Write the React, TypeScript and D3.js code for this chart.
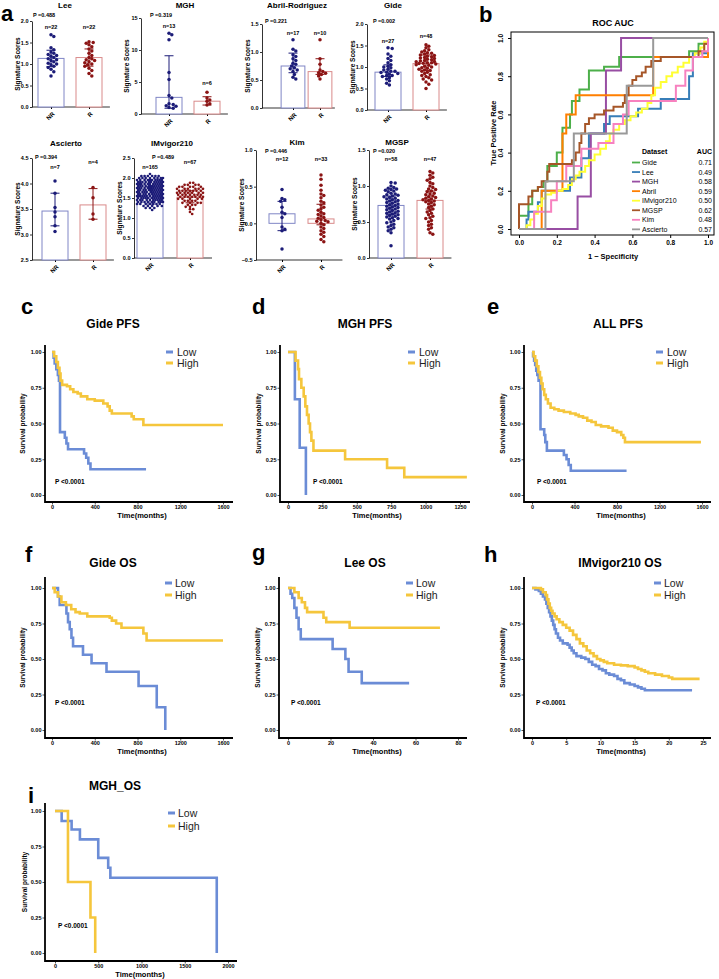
import React, { useEffect, useRef } from 'react';
import * as d3 from 'd3';

const FONT = 'Liberation Sans, Arial, Helvetica, sans-serif';
const groups = ['NR', 'R'];

// ---------- a: signature scores, one value per patient ----------
const leeNR = [1.68, 1.64, 1.38, 1.33, 1.28, 1.25, 1.22, 1.2, 1.18, 1.15, 1.12, 1.1, 1.08, 1.05, 1.02, 1.0, 0.98, 0.95, 0.92, 0.88, 0.82, 0.72];
const leeR = [1.52, 1.5, 1.48, 1.45, 1.4, 1.35, 1.3, 1.25, 1.2, 1.15, 1.12, 1.1, 1.08, 1.05, 1.03, 1.0, 0.98, 0.95, 0.9, 0.85, 0.78, 0.72];
const mghNR = [12.6, 12.4, 11.6, 6.5, 5.4, 2.9, 2.5, 1.6, 1.5, 1.3, 1.2, 1.0, 0.9];
const mghR = [3.4, 2.5, 2.2, 2.0, 1.6, 1.4];
const abrilNR = [1.22, 1.05, 1.02, 0.95, 0.92, 0.88, 0.85, 0.8, 0.78, 0.75, 0.72, 0.7, 0.68, 0.65, 0.6, 0.55, 0.52];
const abrilR = [1.22, 0.88, 0.78, 0.68, 0.65, 0.63, 0.62, 0.6, 0.57, 0.52];
const gideNR = [1.45, 1.43, 1.3, 1.25, 1.2, 1.15, 1.1, 1.05, 1.02, 1.0, 0.98, 0.95, 0.93, 0.9, 0.9, 0.88, 0.87, 0.85, 0.83, 0.8, 0.8, 0.78, 0.75, 0.72, 0.68, 0.62, 0.58];
const gideR = [1.52, 1.48, 1.45, 1.4, 1.38, 1.35, 1.33, 1.32, 1.3, 1.28, 1.27, 1.25, 1.24, 1.22, 1.21, 1.2, 1.18, 1.17, 1.15, 1.14,
  1.13, 1.12, 1.1, 1.1, 1.09, 1.08, 1.07, 1.05, 1.04, 1.02, 1.0, 0.98, 0.97, 0.95, 0.93, 0.92, 0.9, 0.88, 0.85, 0.82,
  0.8, 0.78, 0.75, 0.72, 0.7, 0.65, 0.6, 0.5];
const ascNR = [4.05, 3.81, 3.53, 3.44, 3.35, 3.17, 3.06];
const ascR = [3.92, 3.72, 3.4, 3.3];
// IMvigor210 is too dense to read dot by dot: [score, dots in that row]
const imvNRRows = [[2.1, 1], [2.05, 6], [2.0, 8], [1.95, 10], [1.9, 12], [1.85, 12], [1.8, 12], [1.75, 12], [1.7, 12], [1.65, 11],
  [1.6, 11], [1.55, 12], [1.5, 11], [1.45, 10], [1.4, 9], [1.35, 7], [1.3, 5], [1.25, 3], [1.2, 1]];
const imvRRows = [[1.88, 2], [1.83, 4], [1.78, 5], [1.73, 6], [1.68, 7], [1.63, 7], [1.58, 7], [1.53, 7], [1.48, 5], [1.43, 4],
  [1.38, 4], [1.33, 3], [1.28, 2], [1.22, 2], [1.15, 1], [1.1, 1]];
const kimNR = [0.46, 0.34, 0.32, 0.3, 0.22, 0.15, 0.13, 0.08, -0.05, -0.08, -0.1, -0.35];
const kimR = [0.66, 0.6, 0.52, 0.45, 0.4, 0.38, 0.35, 0.3, 0.28, 0.25, 0.22, 0.2, 0.18, 0.15, 0.13, 0.12, 0.1, 0.08, 0.07, 0.05,
  0.04, 0.03, 0.02, 0.0, -0.02, -0.05, -0.07, -0.1, -0.12, -0.15, -0.18, -0.22, -0.25];
const mgspNR = [1.05, 1.04, 1.0, 0.98, 0.97, 0.96, 0.95, 0.94, 0.93, 0.92, 0.9, 0.89, 0.88, 0.87, 0.86, 0.85, 0.84, 0.83, 0.82, 0.81,
  0.8, 0.79, 0.78, 0.77, 0.76, 0.75, 0.74, 0.73, 0.72, 0.71, 0.7, 0.69, 0.68, 0.67, 0.66, 0.65, 0.64, 0.63, 0.62, 0.61,
  0.6, 0.59, 0.58, 0.57, 0.56, 0.55, 0.54, 0.52, 0.5, 0.49, 0.47, 0.45, 0.43, 0.42, 0.4, 0.38, 0.35, 0.17];
const mgspR = [1.2, 1.18, 1.15, 1.12, 1.1, 1.08, 1.05, 1.03, 1.0, 0.98, 0.96, 0.95, 0.93, 0.92, 0.9, 0.89, 0.88, 0.86, 0.85, 0.84,
  0.83, 0.82, 0.81, 0.8, 0.79, 0.78, 0.77, 0.75, 0.74, 0.72, 0.7, 0.68, 0.66, 0.64, 0.62, 0.6, 0.58, 0.56, 0.55, 0.52,
  0.5, 0.47, 0.45, 0.42, 0.4, 0.35, 0.33];

const rowsToValues = (rows: number[][]) => rows.flatMap(([v, n]) => Array(n).fill(v));

// bar heights [NR, R] and error bars [lo, hi] as drawn
const cohorts = ['Lee', 'MGH', 'Abril-Rodriguez', 'Gide', 'Ascierto', 'IMvigor210', 'Kim', 'MGSP'];
const pValues = ['0.488', '0.319', '0.221', '0.002', '0.394', '0.489', '0.446', '0.020'];
const nCounts = [[22, 22], [13, 6], [17, 10], [27, 48], [7, 4], [165, 67], [12, 33], [58, 47]];
const barHeights = [[1.13, 1.15], [2.6, 2.0], [0.75, 0.65], [0.88, 1.08], [3.46, 3.58], [1.55, 1.52], [0.13, 0.06], [0.73, 0.8]];
const errBars = [
  [[0.94, 1.32], [0.95, 1.35]], [[0.9, 9.1], [1.4, 2.7]], [[0.63, 0.98], [0.6, 0.88]], [[0.78, 1.05], [0.92, 1.28]],
  [[3.17, 3.81], [3.3, 3.9]], [[1.35, 1.78], [1.38, 1.68]], [[-0.1, 0.3], [-0.02, 0.26]], [[0.6, 0.86], [0.68, 0.93]]];
const scoreDomains = [[0, 2], [0, 15], [0, 1.5], [0, 2], [2.5, 4.5], [0, 2.5], [-0.5, 1], [0, 1.5]];
const scoreTicks = [[0, 0.5, 1, 1.5, 2], [0, 5, 10, 15], [0, 0.5, 1, 1.5], [0, 0.5, 1, 1.5, 2], [2.5, 3, 3.5, 4, 4.5],
  [0, 0.5, 1, 1.5, 2, 2.5], [-0.5, 0, 0.5, 1], [0, 0.5, 1, 1.5]];
const scoreValues = [
  [leeNR, leeR], [mghNR, mghR], [abrilNR, abrilR], [gideNR, gideR], [ascNR, ascR],
  [rowsToValues(imvNRRows), rowsToValues(imvRRows)], [kimNR, kimR], [mgspNR, mgspR]];

const scatterLayout = [
  { axisX: 32, cNR: 51, cR: 89, yTop: 21, yBot: 107, titleX: 65, titleY: 8, pX: 33, pY: 17, nY: [29, 29] },
  { axisX: 141, cNR: 169, cR: 207, yTop: 18, yBot: 114, titleX: 185, titleY: 8, pX: 150, pY: 17, nY: [28, 85] },
  { axisX: 262, cNR: 293, cR: 320, yTop: 24, yBot: 108, titleX: 297, titleY: 8, pX: 265, pY: 23, nY: [35, 35] },
  { axisX: 367, cNR: 388, cR: 426, yTop: 24, yBot: 110, titleX: 393, titleY: 8, pX: 373, pY: 23, nY: [43, 38] },
  { axisX: 32, cNR: 55, cR: 93, yTop: 158, yBot: 260, titleX: 66, titleY: 146, pX: 35, pY: 159, nY: [169, 164] },
  { axisX: 134, cNR: 150, cR: 190, yTop: 158, yBot: 258, titleX: 172, titleY: 146, pX: 152, pY: 159, nY: [169, 164] },
  { axisX: 256, cNR: 282, cR: 321, yTop: 150, yBot: 260, titleX: 297, titleY: 145, pX: 265, pY: 153, nY: [161, 161] },
  { axisX: 369, cNR: 391, cR: 430, yTop: 150, yBot: 258, titleX: 397, titleY: 145, pX: 373, pY: 153, nY: [161, 161] },
];

// ---------- b: ROC curves, [1 - specificity, sensitivity] at each step ----------
const rocNames = ['Gide', 'Lee', 'MGH', 'Abril', 'IMvigor210', 'MGSP', 'Kim', 'Ascierto'];
const rocAuc = ['0.71', '0.49', '0.58', '0.59', '0.50', '0.62', '0.48', '0.57'];
const rocColors = ['#4DAF4A', '#377EB8', '#984EA3', '#FF7F00', '#FFFF33', '#A65628', '#F781BF', '#999999'];
const rocGide = [[0, 0], [0, 0.07], [0.05, 0.13], [0.07, 0.2], [0.1, 0.22], [0.13, 0.25], [0.15, 0.33], [0.2, 0.4], [0.23, 0.53],
  [0.27, 0.6], [0.28, 0.67], [0.32, 0.73], [0.37, 0.83], [0.45, 0.85], [0.53, 0.9], [0.9, 0.93], [0.95, 0.97], [1, 1]];
const rocLee = [[0, 0], [0.04, 0.05], [0.05, 0.09], [0.1, 0.14], [0.12, 0.2], [0.27, 0.27], [0.33, 0.37], [0.37, 0.5],
  [0.45, 0.55], [0.48, 0.59], [0.63, 0.63], [0.75, 0.68], [0.9, 0.8], [0.92, 0.92], [1, 1]];
const rocMgh = [[0, 0], [0.31, 0.17], [0.38, 0.5], [0.46, 0.83], [0.54, 1], [1, 1]];
const rocAbril = [[0, 0], [0.12, 0.2], [0.23, 0.5], [0.25, 0.6], [0.3, 0.7], [0.71, 0.9], [1, 1]];
const rocImvigor = [[0, 0], [0.04, 0.02], [0.06, 0.05], [0.08, 0.08], [0.1, 0.12], [0.12, 0.16], [0.14, 0.18], [0.17, 0.19],
  [0.2, 0.2], [0.23, 0.21], [0.26, 0.23], [0.28, 0.26], [0.3, 0.28], [0.32, 0.3], [0.35, 0.33], [0.37, 0.36], [0.4, 0.39],
  [0.43, 0.42], [0.46, 0.46], [0.48, 0.5], [0.5, 0.52], [0.53, 0.55], [0.56, 0.57], [0.59, 0.59], [0.62, 0.61], [0.65, 0.63],
  [0.68, 0.66], [0.7, 0.7], [0.72, 0.74], [0.75, 0.77], [0.78, 0.8], [0.81, 0.82], [0.84, 0.85], [0.87, 0.87], [0.9, 0.9],
  [0.93, 0.92], [0.96, 0.95], [0.98, 0.98], [1, 1]];
const rocMgsp = [[0, 0], [0, 0.13], [0.05, 0.17], [0.07, 0.2], [0.1, 0.22], [0.12, 0.25], [0.15, 0.3], [0.16, 0.34], [0.28, 0.36],
  [0.3, 0.4], [0.32, 0.45], [0.33, 0.5], [0.35, 0.55], [0.37, 0.58], [0.4, 0.6], [0.45, 0.62], [0.5, 0.64], [0.55, 0.66],
  [0.56, 0.7], [0.58, 0.75], [0.6, 0.78], [0.62, 0.8], [0.65, 0.82], [0.67, 0.85], [0.7, 0.88], [0.75, 0.9], [0.95, 0.93],
  [0.98, 0.97], [1, 1]];
const rocKim = [[0, 0], [0.08, 0.09], [0.17, 0.15], [0.2, 0.25], [0.25, 0.33], [0.33, 0.42], [0.42, 0.45], [0.5, 0.55],
  [0.55, 0.6], [0.58, 0.67], [0.83, 0.75], [0.88, 0.83], [0.92, 0.9], [0.97, 0.93], [1, 1]];
const rocAscierto = [[0, 0], [0.14, 0.25], [0.29, 0.5], [0.57, 0.75], [0.71, 1], [1, 1]];
const rocCurves = [rocGide, rocLee, rocMgh, rocAbril, rocImvigor, rocMgsp, rocKim, rocAscierto];

// ---------- c-i: Kaplan-Meier curves, [time, survival] at each step ----------
const gidePfsLow = [[0, 1], [15, 0.96], [25, 0.92], [40, 0.88], [55, 0.84], [65, 0.8], [75, 0.44], [120, 0.4], [135, 0.36],
  [150, 0.32], [300, 0.29], [320, 0.26], [340, 0.22], [360, 0.18], [880, 0.18]];
const gidePfsHigh = [[0, 1], [20, 0.97], [40, 0.93], [55, 0.89], [70, 0.85], [80, 0.8], [95, 0.77], [140, 0.76], [170, 0.74],
  [200, 0.72], [240, 0.71], [270, 0.69], [330, 0.67], [400, 0.66], [480, 0.64], [520, 0.62], [540, 0.59], [560, 0.57],
  [745, 0.55], [765, 0.53], [855, 0.49], [1600, 0.49]];
const mghPfsLow = [[0, 1], [50, 0.67], [85, 0.33], [130, 0]];
const mghPfsHigh = [[0, 1], [55, 0.94], [73, 0.88], [80, 0.81], [97, 0.75], [114, 0.69], [126, 0.62], [138, 0.56], [150, 0.5],
  [160, 0.44], [170, 0.38], [185, 0.31], [415, 0.25], [720, 0.19], [845, 0.125], [1300, 0.125]];
const allPfsLow = [[0, 1], [10, 0.97], [20, 0.94], [30, 0.91], [40, 0.87], [50, 0.84], [62, 0.8], [80, 0.46], [115, 0.42],
  [125, 0.37], [140, 0.31], [300, 0.28], [325, 0.25], [345, 0.21], [365, 0.17], [890, 0.17]];
const allPfsHigh = [[0, 1], [15, 0.97], [30, 0.94], [45, 0.9], [60, 0.86], [75, 0.82], [88, 0.78], [100, 0.74], [115, 0.7],
  [130, 0.67], [150, 0.64], [175, 0.61], [210, 0.6], [250, 0.59], [300, 0.58], [360, 0.57], [410, 0.56], [440, 0.55],
  [480, 0.54], [520, 0.52], [560, 0.51], [600, 0.49], [650, 0.48], [720, 0.47], [760, 0.45], [800, 0.44], [840, 0.42],
  [860, 0.4], [875, 0.37], [1590, 0.37]];
const gideOsLow = [[0, 1], [56, 0.94], [72, 0.88], [135, 0.82], [150, 0.76], [166, 0.71], [182, 0.65], [197, 0.59], [290, 0.53],
  [370, 0.47], [510, 0.41], [810, 0.31], [980, 0.16], [1060, 0]];
const gideOsHigh = [[0, 1], [25, 0.97], [56, 0.94], [88, 0.9], [130, 0.88], [180, 0.85], [220, 0.83], [260, 0.82], [330, 0.8],
  [540, 0.79], [560, 0.77], [600, 0.75], [650, 0.72], [855, 0.68], [885, 0.63], [1600, 0.63]];
const leeOsLow = [[0, 1], [1.2, 0.96], [2, 0.93], [3, 0.86], [4, 0.79], [5, 0.71], [6, 0.64], [21, 0.57], [27, 0.5],
  [28.5, 0.41], [34.7, 0.33], [57, 0.33]];
const leeOsHigh = [[0, 1], [3, 0.97], [5, 0.93], [6.5, 0.9], [8, 0.86], [9, 0.83], [16.7, 0.79], [18, 0.76], [29, 0.72],
  [71.5, 0.72]];
const imvOsLow = [[0, 1], [0.5, 0.99], [1, 0.98], [1.3, 0.96], [1.6, 0.94], [1.9, 0.92], [2.1, 0.89], [2.3, 0.86], [2.5, 0.83],
  [2.7, 0.8], [2.9, 0.77], [3.1, 0.74], [3.3, 0.71], [3.5, 0.68], [3.8, 0.65], [4.1, 0.63], [4.5, 0.61], [5.2, 0.6],
  [5.5, 0.58], [5.8, 0.56], [6.1, 0.54], [6.5, 0.52], [7.2, 0.51], [7.8, 0.5], [8.3, 0.48], [8.8, 0.46], [9.3, 0.45],
  [9.8, 0.43], [10.3, 0.42], [10.8, 0.4], [11.3, 0.39], [12, 0.38], [12.5, 0.36], [13, 0.35], [13.5, 0.33], [14.3, 0.32],
  [15, 0.31], [15.5, 0.3], [16, 0.29], [16.5, 0.28], [23.4, 0.28]];
const imvOsHigh = [[0, 1], [1.3, 0.99], [1.6, 0.97], [2, 0.95], [2.2, 0.92], [2.4, 0.89], [2.6, 0.86], [2.8, 0.84], [3, 0.82],
  [3.3, 0.8], [3.6, 0.78], [4, 0.76], [4.5, 0.74], [5, 0.72], [5.5, 0.7], [6, 0.67], [6.5, 0.64], [7, 0.61], [7.5, 0.59],
  [8, 0.56], [8.5, 0.54], [9, 0.52], [9.5, 0.5], [10, 0.49], [10.5, 0.48], [11, 0.47], [12, 0.46], [13, 0.455], [14, 0.45],
  [15, 0.44], [15.5, 0.43], [16, 0.42], [16.5, 0.41], [17, 0.4], [18, 0.39], [19, 0.38], [20, 0.37], [20.5, 0.36],
  [24.5, 0.36]];
const mghOsLow = [[0, 1], [77, 0.93], [192, 0.87], [288, 0.8], [500, 0.67], [615, 0.6], [640, 0.53], [1870, 0]];
const mghOsHigh = [[0, 1], [150, 0.5], [410, 0.25], [465, 0]];

const LOW = '#6b8cd6';
const HIGH = '#f5c63c';

const kmPanels = [
  { letter: 'c', lx: 21, ly: 314, title: 'Gide PFS', tx: 113, ty: 328, axisX: 45, axisTop: 345, axisBottom: 502, axisRight: 233,
    x0: 52, x1: 223, y1: 352, y0: 495, xMax: 1600, xTicks: [0, 400, 800, 1200, 1600], low: gidePfsLow, high: gidePfsHigh,
    legX: 166, legTextX: 177, legY: [352, 363], px: 55, py: 484, ylabX: 23, xlabX: 142, xlabY: 518 },
  { letter: 'd', lx: 252, ly: 314, title: 'MGH PFS', tx: 365, ty: 328, axisX: 280, axisTop: 345, axisBottom: 502, axisRight: 470,
    x0: 288, x1: 460, y1: 352, y0: 495, xMax: 1250, xTicks: [0, 250, 500, 750, 1000, 1250], low: mghPfsLow, high: mghPfsHigh,
    legX: 408, legTextX: 419, legY: [352, 363], px: 313, py: 484, ylabX: 259, xlabX: 377, xlabY: 518 },
  { letter: 'e', lx: 487, ly: 314, title: 'ALL PFS', tx: 618, ty: 328, axisX: 524, axisTop: 345, axisBottom: 502, axisRight: 711,
    x0: 532, x1: 702, y1: 352, y0: 495, xMax: 1600, xTicks: [0, 400, 800, 1200, 1600], low: allPfsLow, high: allPfsHigh,
    legX: 656, legTextX: 667, legY: [352, 363], px: 537, py: 484, ylabX: 503, xlabX: 621, xlabY: 518 },
  { letter: 'f', lx: 25, ly: 562, title: 'Gide OS', tx: 113, ty: 567, axisX: 45, axisTop: 577, axisBottom: 738, axisRight: 233,
    x0: 52, x1: 223, y1: 588, y0: 730, xMax: 1600, xTicks: [0, 400, 800, 1200, 1600], low: gideOsLow, high: gideOsHigh,
    legX: 165, legTextX: 175, legY: [583, 595], px: 55, py: 705, ylabX: 23, xlabX: 142, xlabY: 754 },
  { letter: 'g', lx: 252, ly: 560, title: 'Lee OS', tx: 365, ty: 567, axisX: 279, axisTop: 577, axisBottom: 738, axisRight: 467,
    x0: 288, x1: 458, y1: 588, y0: 730, xMax: 80, xTicks: [0, 20, 40, 60, 80], low: leeOsLow, high: leeOsHigh,
    legX: 406, legTextX: 416, legY: [583, 595], px: 291, py: 705, ylabX: 258, xlabX: 377, xlabY: 754 },
  { letter: 'h', lx: 484, ly: 562, title: 'IMvigor210 OS', tx: 620, ty: 567, axisX: 524, axisTop: 577, axisBottom: 738, axisRight: 711,
    x0: 532, x1: 703, y1: 588, y0: 730, xMax: 25, xTicks: [0, 5, 10, 15, 20, 25], low: imvOsLow, high: imvOsHigh,
    legX: 654, legTextX: 664, legY: [583, 595], px: 536, py: 705, ylabX: 503, xlabX: 621, xlabY: 754 },
  { letter: 'i', lx: 28, ly: 803, title: 'MGH_OS', tx: 115, ty: 790, axisX: 45, axisTop: 803, axisBottom: 961, axisRight: 237,
    x0: 55, x1: 228, y1: 811, y0: 953, xMax: 2000, xTicks: [0, 500, 1000, 1500, 2000], low: mghOsLow, high: mghOsHigh,
    legX: 168, legTextX: 178, legY: [813, 826], px: 58, py: 928, ylabX: 25, xlabX: 140, xlabY: 977 },
];

// simple beeswarm: place each dot at the nearest free horizontal offset
function swarm(values: number[], y: (v: number) => number, cx: number, r: number, maxHalf: number) {
  const placed: { x: number; y: number }[] = [];
  const sorted = values.slice().sort((a, b) => b - a);
  const step = r * 0.8;
  const gap = 2 * r * 0.85;
  const nSteps = Math.floor(maxHalf / step);
  sorted.forEach(v => {
    const py = y(v);
    let bestOff = 0, bestD = -1;
    for (let k = 0; k <= 2 * nSteps; k++) {
      const off = (k % 2 === 1 ? 1 : -1) * Math.ceil(k / 2) * step;
      let minD = Infinity;
      placed.forEach(p => {
        const dy = p.y - py;
        if (Math.abs(dy) >= gap) return;
        const d = Math.hypot(p.x - cx - off, dy);
        if (d < minD) minD = d;
      });
      if (minD >= gap) { bestOff = off; break; }
      if (minD > bestD) { bestD = minD; bestOff = off; }
    }
    placed.push({ x: cx + bestOff, y: py });
  });
  return placed;
}

function fontAxis(sel: any, size: number, weight = 'bold') {
  sel.attr('font-family', FONT).attr('font-size', size).attr('font-weight', weight);
  sel.selectAll('text').attr('fill', '#000');
}

function drawScatter(svg: any, i: number) {
  const L = scatterLayout[i];
  const dom = scoreDomains[i];
  const g = svg.append('g');
  const y = d3.scaleLinear().domain(dom).range([L.yBot, L.yTop]);
  const x = d3.scalePoint().domain(groups).range([L.cNR, L.cR]);
  const base = dom[0] < 0 ? 0 : dom[0];
  const bw = Math.min(26, (L.cR - L.cNR) * 0.88);
  const dense = scoreValues[i][0].length > 100;
  const r = dense ? 1.35 : 1.75;
  const fills = ['#1c1c78', '#8b1414'];
  const outlines = ['#8086c6', '#d98a8a'];

  const ya = g.append('g').attr('transform', `translate(${L.axisX},0)`)
    .call(d3.axisLeft(y).tickValues(scoreTicks[i]).tickFormat(d3.format(dom[1] > 5 ? 'd' : '.1f')).tickSize(2).tickPadding(1.5).tickSizeOuter(0));
  fontAxis(ya, 5.5);
  ya.select('.domain').attr('stroke-width', 0.8);
  ya.selectAll('line').attr('stroke-width', 0.8);

  const xEnd = L.cR + (L.cR - L.cNR) * 0.55;
  g.append('line').attr('x1', L.axisX).attr('x2', xEnd).attr('y1', L.yBot).attr('y2', L.yBot).attr('stroke', '#000').attr('stroke-width', 0.8);
  const xa = g.append('g').attr('transform', `translate(0,${L.yBot})`).call(d3.axisBottom(x).tickSize(2).tickSizeOuter(0));
  xa.select('.domain').remove();
  fontAxis(xa, 6);
  xa.selectAll('text').attr('y', 0).attr('dy', '0.35em').attr('text-anchor', 'end').attr('transform', 'translate(2,6) rotate(-45)');

  g.append('text').attr('x', L.titleX).attr('y', L.titleY).attr('text-anchor', 'middle').attr('font-size', 8).attr('font-weight', 'bold').text(cohorts[i]);
  g.append('text').attr('transform', `translate(${L.axisX - 12},${(L.yTop + L.yBot) / 2}) rotate(-90)`).attr('text-anchor', 'middle')
    .attr('font-size', 6.5).attr('font-weight', 'bold').text('Signature Scores');
  g.append('text').attr('x', L.pX).attr('y', L.pY).attr('font-size', 5.5).attr('font-weight', 'bold').text('P =' + pValues[i]);

  groups.forEach((grp, j) => {
    const cx = x(grp) as number;
    g.append('rect').attr('x', cx - bw / 2).attr('width', bw).attr('y', y(barHeights[i][j])).attr('height', y(base) - y(barHeights[i][j]))
      .attr('fill', '#fff').attr('stroke', outlines[j]).attr('stroke-width', 1);
    const pts = swarm(scoreValues[i][j], y, cx, r, dense ? 14 : 10.5);
    g.selectAll(null).data(pts).enter().append('circle').attr('cx', (d: any) => d.x).attr('cy', (d: any) => d.y).attr('r', r).attr('fill', fills[j]);
    const [lo, hi] = errBars[i][j];
    g.append('line').attr('x1', cx).attr('x2', cx).attr('y1', y(lo)).attr('y2', y(hi)).attr('stroke', fills[j]).attr('stroke-width', 1);
    [lo, hi].forEach(v => g.append('line').attr('x1', cx - 4.5).attr('x2', cx + 4.5).attr('y1', y(v)).attr('y2', y(v)).attr('stroke', fills[j]).attr('stroke-width', 1));
    g.append('text').attr('x', cx).attr('y', L.nY[j]).attr('text-anchor', 'middle').attr('font-size', 5.5).attr('font-weight', 'bold').text('n=' + nCounts[i][j]);
  });
}

function drawRoc(svg: any) {
  const g = svg.append('g');
  const x = d3.scaleLinear().domain([0, 1]).range([519, 708]);
  const y = d3.scaleLinear().domain([0, 1]).range([229, 38]);
  g.append('rect').attr('x', 511).attr('y', 32).attr('width', 203).attr('height', 203).attr('fill', 'none').attr('stroke', '#000').attr('stroke-width', 1);
  const xa = g.append('g').attr('transform', 'translate(0,235)')
    .call(d3.axisBottom(x).tickValues([0, 0.2, 0.4, 0.6, 0.8, 1]).tickFormat(d3.format('.1f')).tickSize(3).tickPadding(2).tickSizeOuter(0));
  xa.select('.domain').remove();
  fontAxis(xa, 6.5);
  const ya = g.append('g').attr('transform', 'translate(511,0)')
    .call(d3.axisLeft(y).tickValues([0, 0.2, 0.4, 0.6, 0.8, 1]).tickFormat(d3.format('.1f')).tickSize(3).tickSizeOuter(0));
  ya.select('.domain').remove();
  fontAxis(ya, 6.5);
  ya.selectAll('text').attr('x', 0).attr('dy', 0).attr('text-anchor', 'middle').attr('transform', 'translate(-8,0) rotate(-90)');

  const line = d3.line<number[]>().x(d => x(d[0])).y(d => y(d[1])).curve(d3.curveStepAfter);
  rocCurves.forEach((c, i) => {
    g.append('path').attr('d', line(c)).attr('fill', 'none').attr('stroke', rocColors[i]).attr('stroke-width', 2);
  });

  g.append('text').attr('x', 613).attr('y', 26).attr('text-anchor', 'middle').attr('font-size', 9).attr('font-weight', 'bold').text('ROC AUC');
  g.append('text').attr('x', 613).attr('y', 259).attr('text-anchor', 'middle').attr('font-size', 7.5).attr('font-weight', 'bold').text('1 − Specificity');
  g.append('text').attr('transform', 'translate(496,133) rotate(-90)').attr('text-anchor', 'middle').attr('font-size', 7.5).attr('font-weight', 'bold').text('True Positive Rate');

  g.append('text').attr('x', 642).attr('y', 154).attr('font-size', 7).attr('font-weight', 'bold').text('Dataset');
  g.append('text').attr('x', 712).attr('y', 154).attr('text-anchor', 'end').attr('font-size', 7).attr('font-weight', 'bold').text('AUC');
  rocNames.forEach((name, i) => {
    const cy = 162.5 + i * 9.55;
    g.append('line').attr('x1', 632).attr('x2', 640).attr('y1', cy).attr('y2', cy).attr('stroke', rocColors[i]).attr('stroke-width', 1.8);
    g.append('text').attr('x', 642).attr('y', cy + 2.5).attr('font-size', 7).text(name);
    g.append('text').attr('x', 712).attr('y', cy + 2.5).attr('text-anchor', 'end').attr('font-size', 7).text(rocAuc[i]);
  });
}

function drawKm(svg: any, p: any) {
  const g = svg.append('g');
  const x = d3.scaleLinear().domain([0, p.xMax]).range([p.x0, p.x1]);
  const y = d3.scaleLinear().domain([0, 1]).range([p.y0, p.y1]);
  const line = d3.line<number[]>().x(d => x(d[0])).y(d => y(d[1])).curve(d3.curveStepAfter);

  const ya = g.append('g').attr('transform', `translate(${p.axisX},0)`)
    .call(d3.axisLeft(y).tickValues([0, 0.25, 0.5, 0.75, 1]).tickFormat(d3.format('.2f')).tickSize(2.5).tickPadding(1).tickSizeOuter(0));
  ya.select('.domain').remove();
  fontAxis(ya, 5.5);
  ya.selectAll('line').attr('stroke', '#555');
  const xa = g.append('g').attr('transform', `translate(0,${p.axisBottom})`)
    .call(d3.axisBottom(x).tickValues(p.xTicks).tickFormat(d3.format('d')).tickSize(2.5).tickPadding(1).tickSizeOuter(0));
  xa.select('.domain').remove();
  fontAxis(xa, 5.5);
  xa.selectAll('line').attr('stroke', '#555');
  g.append('line').attr('x1', p.axisX).attr('x2', p.axisX).attr('y1', p.axisTop).attr('y2', p.axisBottom + 0.9).attr('stroke', '#000').attr('stroke-width', 1.8);
  g.append('line').attr('x1', p.axisX).attr('x2', p.axisRight).attr('y1', p.axisBottom).attr('y2', p.axisBottom).attr('stroke', '#000').attr('stroke-width', 1.8);

  [[p.low, LOW], [p.high, HIGH]].forEach(([data, color]: any) => {
    g.append('path').attr('d', line(data)).attr('fill', 'none').attr('stroke', color).attr('stroke-width', 2.6);
  });

  g.append('text').attr('x', p.lx).attr('y', p.ly).attr('font-size', 22).attr('font-weight', 'bold').text(p.letter);
  g.append('text').attr('x', p.tx).attr('y', p.ty).attr('text-anchor', 'middle').attr('font-size', 12).attr('font-weight', 'bold').text(p.title);
  g.append('text').attr('transform', `translate(${p.ylabX + 2},${(p.axisTop + p.axisBottom) / 2}) rotate(-90)`).attr('text-anchor', 'middle')
    .attr('font-size', 6.5).attr('font-weight', 'bold').text('Survival probability');
  g.append('text').attr('x', p.xlabX).attr('y', p.xlabY).attr('text-anchor', 'middle').attr('font-size', 7.5).attr('font-weight', 'bold').text('Time(months)');
  g.append('text').attr('x', p.px).attr('y', p.py).attr('font-size', 6.5).attr('font-weight', 'bold').text('P <0.0001');
  ['Low', 'High'].forEach((lab, k) => {
    const ly = p.legY[k];
    g.append('line').attr('x1', p.legX).attr('x2', p.legX + 7).attr('y1', ly).attr('y2', ly).attr('stroke', k ? HIGH : LOW).attr('stroke-width', 3);
    g.append('text').attr('x', p.legTextX).attr('y', ly + 3.8).attr('font-size', 10.5).attr('fill', '#222').text(lab);
  });
}

export default function App() {
  const ref = useRef<SVGSVGElement>(null);
  useEffect(() => {
    const svg = d3.select(ref.current);
    svg.selectAll('*').remove();
    svg.append('rect').attr('width', 719).attr('height', 979).attr('fill', '#fff');
    svg.append('text').attr('x', 1).attr('y', 21).attr('font-size', 22).attr('font-weight', 'bold').text('a');
    svg.append('text').attr('x', 479).attr('y', 22).attr('font-size', 22).attr('font-weight', 'bold').text('b');
    cohorts.forEach((_, i) => drawScatter(svg, i));
    drawRoc(svg);
    kmPanels.forEach(p => drawKm(svg, p));
  }, []);
  return (
    <svg ref={ref} width={719} height={979} fontFamily={FONT}
      style={{ position: 'absolute', left: 0, top: 0, display: 'block' }} />
  );
}
